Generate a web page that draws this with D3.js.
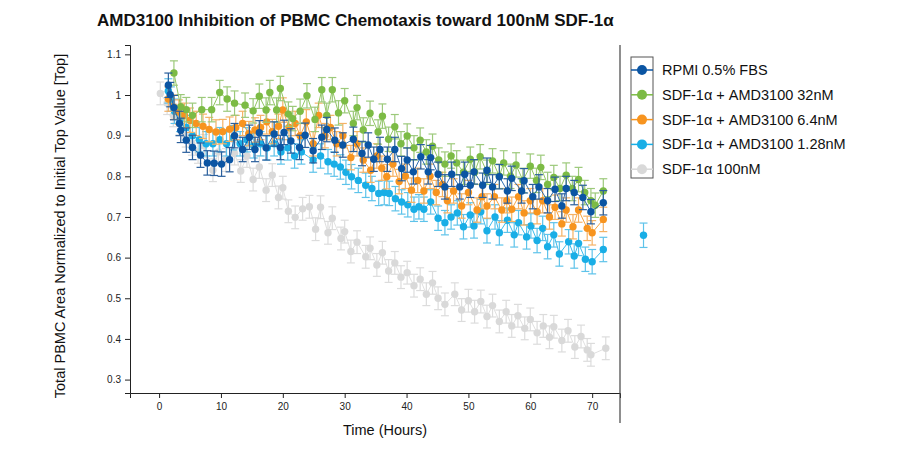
<!DOCTYPE html>
<html>
<head>
<meta charset="utf-8">
<script src="https://cdn.jsdelivr.net/npm/d3@7"></script>
<style>
  body { margin: 0; background: #fff; }
  text { font-family: "Liberation Sans", Arial, Helvetica, sans-serif; }
</style>
</head>
<body>
<div id="chart"></div>
<script>
var seriesNames = ["RPMI 0.5% FBS", "SDF-1\u03b1 + AMD3100 32nM", "SDF-1\u03b1 + AMD3100 6.4nM", "SDF-1\u03b1 + AMD3100 1.28nM", "SDF-1\u03b1 100nM"];
var seriesColors = ["#0b55a3", "#7cbb45", "#f7941f", "#19aee6", "#d9d9d9"];
var barColors = ["#2a5f9c", "#9cc97a", "#f5b265", "#5ec3ea", "#dcdcdc"];
var seriesErrors = [0.03, 0.03, 0.03, 0.03, 0.028];

var xTicks = [0, 10, 20, 30, 40, 50, 60, 70];
var yTicks = [0.3, 0.4, 0.5, 0.6, 0.7, 0.8, 0.9, 1, 1.1];

// RPMI 0.5% FBS
var rpmiHours = [1.5,1.8,2.4,3.3,3.5,4.4,5.4,6.7,7.8,8.9,10.1,11.4,12.2,13.5,14.6,15.5,16.2,17.3,18.6,19.6,20.2,21.3,22.7,23.6,24.9,26.3,27.1,28.4,29.7,31.4,32.8,33.8,34.7,35.7,36.9,38.1,39.2,40.1,41.1,42.3,43.5,43.9,45.1,46.2,47.3,48.6,49.4,50.3,50.9,52.3,53.0,53.9,55.0,56.3,57.0,58.6,59.0,60.4,61.4,62.8,64.0,65.1,65.8,67.1,68.5,69.8,71.8];
var rpmiValues = [1.024,1.001,0.969,0.93,0.913,0.889,0.871,0.852,0.833,0.832,0.83,0.841,0.9,0.866,0.896,0.866,0.907,0.87,0.904,0.871,0.908,0.887,0.871,0.901,0.863,0.896,0.915,0.889,0.877,0.891,0.856,0.877,0.842,0.866,0.842,0.866,0.819,0.84,0.811,0.848,0.811,0.846,0.805,0.774,0.805,0.774,0.805,0.778,0.811,0.778,0.815,0.774,0.799,0.764,0.795,0.764,0.789,0.75,0.774,0.74,0.768,0.727,0.77,0.76,0.748,0.713,0.735];

// SDF-1a + AMD3100 32nM
var amd32Hours = [2.4,3.5,4.4,5.4,6.9,8.5,9.8,11.0,12.2,13.9,15.2,16.2,17.3,17.9,19.0,19.6,20.9,21.6,22.8,23.9,25.2,26.3,27.1,28.0,29.0,30.0,31.4,32.0,33.0,34.1,35.4,36.1,37.1,38.1,39.1,40.1,41.2,42.2,43.2,44.2,45.2,46.2,47.2,48.1,49.2,50.3,51.0,51.9,53.0,53.9,55.0,55.7,56.8,57.7,58.8,60.0,61.0,61.7,62.8,63.8,64.8,65.8,66.8,67.8,68.8,69.8,70.5,71.8];
var amd32Values = [1.054,0.971,0.964,0.95,0.964,0.964,1.006,0.99,0.98,0.975,0.961,0.997,0.963,1.006,0.963,1.016,0.953,0.942,0.96,0.998,0.94,1.013,0.95,1.013,0.956,0.986,0.93,0.969,0.914,0.955,0.909,0.948,0.891,0.922,0.88,0.899,0.87,0.889,0.86,0.874,0.84,0.83,0.85,0.833,0.81,0.842,0.81,0.848,0.81,0.838,0.80,0.833,0.80,0.828,0.79,0.825,0.79,0.822,0.78,0.797,0.77,0.803,0.77,0.792,0.76,0.74,0.729,0.764];

// SDF-1a + AMD3100 6.4nM
var amd6Hours = [1.5,2.4,3.2,4.1,5.0,6.0,7.1,8.1,9.2,10.3,11.4,12.4,13.5,14.5,15.5,16.4,17.4,18.3,19.3,20.0,21.0,22.0,22.8,23.8,24.9,25.8,26.8,27.7,28.7,29.7,31.0,32.0,33.0,34.2,35.2,36.0,36.8,37.8,38.8,39.8,40.8,41.8,42.8,43.8,44.8,45.8,46.6,47.6,48.9,50.0,51.4,52.2,53.0,54.2,55.4,56.2,57.0,58.1,59.0,60.0,61.1,62.0,63.1,64.0,65.1,65.8,66.9,67.8,69.2,70.0,71.8];
var amd6Values = [0.99,0.97,0.958,0.95,0.938,0.93,0.923,0.915,0.909,0.91,0.916,0.92,0.93,0.905,0.914,0.92,0.934,0.91,0.923,0.963,0.92,0.93,0.90,0.934,0.88,0.95,0.90,0.92,0.88,0.90,0.846,0.88,0.84,0.815,0.85,0.82,0.799,0.83,0.787,0.80,0.766,0.79,0.764,0.80,0.76,0.78,0.74,0.764,0.727,0.76,0.717,0.75,0.727,0.75,0.717,0.74,0.719,0.75,0.71,0.74,0.713,0.74,0.70,0.724,0.683,0.717,0.676,0.717,0.672,0.661,0.694];

// SDF-1a + AMD3100 1.28nM (last point sits past the right edge of the plot)
var amd128Hours = [1.5,1.9,2.5,3.4,4.4,5.4,6.5,7.6,8.7,9.8,10.9,12.0,13.1,14.2,15.3,16.4,17.5,18.6,19.7,20.8,21.9,23.0,24.9,26.1,27.3,28.3,29.3,30.2,31.1,32.2,33.4,34.4,35.5,36.4,37.2,38.2,39.2,40.2,41.2,42.0,42.8,43.9,45.1,46.2,47.2,48.2,49.2,50.3,50.9,52.0,53.0,54.3,55.0,56.3,57.4,58.1,59.4,60.1,61.1,62.0,62.8,63.8,64.7,66.2,67.1,67.8,68.9,70.0,71.8,78.3];
var amd128Values = [1.01,0.99,0.96,0.94,0.92,0.90,0.89,0.88,0.88,0.89,0.88,0.895,0.88,0.89,0.875,0.88,0.87,0.88,0.86,0.87,0.85,0.86,0.84,0.85,0.836,0.83,0.823,0.81,0.799,0.79,0.778,0.77,0.758,0.76,0.758,0.745,0.737,0.73,0.719,0.725,0.719,0.737,0.697,0.686,0.70,0.71,0.676,0.705,0.678,0.713,0.666,0.70,0.661,0.692,0.656,0.686,0.651,0.678,0.642,0.672,0.627,0.656,0.609,0.639,0.604,0.635,0.596,0.59,0.62,0.655];

// SDF-1a 100nM
var sdfHours = [0.2,1.3,2.3,3.3,4.3,5.3,6.3,7.3,8.7,9.6,10.8,12.2,13.2,14.2,15.2,16.2,17.3,18.3,19.3,20.0,20.9,22.0,23.2,24.3,25.3,26.1,27.3,28.0,29.4,30.0,31.0,32.0,33.4,34.1,35.2,36.1,37.1,38.1,39.1,40.1,41.2,42.2,43.2,44.2,45.1,46.2,47.8,48.9,50.0,51.0,52.0,53.0,53.9,55.0,56.1,57.0,58.0,59.1,60.0,61.1,62.1,63.1,63.8,65.1,66.1,67.2,68.2,69.2,69.8,72.2];
var sdfValues = [1.004,0.98,0.95,0.93,0.90,0.88,0.86,0.875,0.815,0.86,0.84,0.856,0.813,0.85,0.792,0.823,0.766,0.803,0.748,0.772,0.714,0.699,0.72,0.725,0.67,0.724,0.661,0.697,0.647,0.664,0.615,0.638,0.602,0.623,0.582,0.612,0.567,0.587,0.552,0.563,0.531,0.547,0.51,0.538,0.50,0.485,0.51,0.471,0.494,0.467,0.492,0.455,0.482,0.443,0.467,0.432,0.457,0.426,0.448,0.415,0.432,0.404,0.43,0.396,0.42,0.38,0.406,0.373,0.361,0.377];

var seriesHours = [rpmiHours, amd32Hours, amd6Hours, amd128Hours, sdfHours];
var seriesValues = [rpmiValues, amd32Values, amd6Values, amd128Values, sdfValues];

var svgWidth = 900, svgHeight = 469;
var plotLeft = 130, plotRight = 620, plotTop = 45, plotBottom = 393;

var svg = d3.select("#chart").append("svg")
    .attr("width", svgWidth).attr("height", svgHeight);

var xScale = d3.scaleLinear().domain([-4.7, 74.5]).range([plotLeft, plotRight]);
var yScale = d3.scaleLinear().domain([0.267, 1.123]).range([plotBottom, plotTop]);

// title
svg.append("text").attr("x", 97).attr("y", 26)
    .attr("font-size", 17).attr("font-weight", "bold").attr("fill", "#111")
    .text("AMD3100 Inhibition of PBMC Chemotaxis toward 100nM SDF-1\u03b1");

// axes
var xAxis = d3.axisBottom(xScale).tickValues(xTicks).tickSize(5).tickPadding(5).tickFormat(d3.format("d"));
var xMinor = d3.axisBottom(xScale).tickValues(d3.range(-4, 75, 2)).tickSize(3).tickFormat("");
var yAxis = d3.axisLeft(yScale).tickValues(yTicks).tickSize(5).tickPadding(4).tickFormat(function (d) { return d === 1 ? "1" : d3.format(".1f")(d); });
var yMinor = d3.axisLeft(yScale).tickValues(d3.range(0.275, 1.12, 0.025)).tickSize(3).tickFormat("");

var gx = svg.append("g").attr("class", "axis").attr("transform", "translate(0," + plotBottom + ")");
gx.call(xMinor);
gx.call(xAxis);
var gy = svg.append("g").attr("class", "axis").attr("transform", "translate(" + plotLeft + ",0)");
gy.call(yMinor);
gy.call(yAxis);
svg.selectAll(".axis .domain").attr("stroke", "#222");
svg.selectAll(".axis line").attr("stroke", "#222");
svg.selectAll(".axis text").attr("font-size", 10).attr("fill", "#222")
    .style("font-family", "Liberation Sans, Arial, sans-serif");

// right border
svg.append("line").attr("x1", plotRight).attr("x2", plotRight).attr("y1", plotTop).attr("y2", 423)
    .attr("stroke", "#444").attr("stroke-width", 1.2);

// axis titles
svg.append("text").attr("x", 385).attr("y", 435).attr("text-anchor", "middle")
    .attr("font-size", 14.5).attr("fill", "#111").text("Time (Hours)");
svg.append("text").attr("transform", "translate(65,226) rotate(-90)").attr("text-anchor", "middle")
    .attr("font-size", 14.5).attr("fill", "#111").text("Total PBMC Area Normalized to Initial Top Value [Top]");

// series, drawn from the back (grey) to the front (dark blue)
var order = [4, 3, 2, 1, 0];
var xMax = xScale.domain()[1];
order.forEach(function (s) {
    var pts = seriesHours[s].map(function (h, i) { return [h, seriesValues[s][i]]; });
    var g = svg.append("g");
    var err = seriesErrors[s];

    // connecting line only inside the plot; off-plot points stand alone
    g.append("path").datum(pts.filter(function (d) { return d[0] <= xMax; }))
        .attr("fill", "none").attr("stroke", seriesColors[s]).attr("stroke-width", 1).attr("opacity", 0.85)
        .attr("d", d3.line().x(function (d) { return xScale(d[0]); }).y(function (d) { return yScale(d[1]); }));

    var bars = g.selectAll(".err").data(pts).enter().append("g")
        .attr("stroke", barColors[s]).attr("stroke-width", 1.2);
    bars.append("line")
        .attr("x1", function (d) { return xScale(d[0]); }).attr("x2", function (d) { return xScale(d[0]); })
        .attr("y1", function (d) { return yScale(d[1] + err); }).attr("y2", function (d) { return yScale(d[1] - err); });
    bars.append("line")
        .attr("x1", function (d) { return xScale(d[0]) - 4; }).attr("x2", function (d) { return xScale(d[0]) + 4; })
        .attr("y1", function (d) { return yScale(d[1] + err); }).attr("y2", function (d) { return yScale(d[1] + err); });
    bars.append("line")
        .attr("x1", function (d) { return xScale(d[0]) - 4; }).attr("x2", function (d) { return xScale(d[0]) + 4; })
        .attr("y1", function (d) { return yScale(d[1] - err); }).attr("y2", function (d) { return yScale(d[1] - err); });

    g.selectAll("circle").data(pts).enter().append("circle")
        .attr("r", 3.7).attr("fill", seriesColors[s])
        .attr("cx", function (d) { return xScale(d[0]); })
        .attr("cy", function (d) { return yScale(d[1]); });
});

// legend
var legX = 631, legY = 57;
svg.append("rect").attr("x", legX).attr("y", legY).attr("width", 22).attr("height", 121)
    .attr("fill", "none").attr("stroke", "#555").attr("stroke-width", 1);
var leg = svg.selectAll(".legend").data(seriesNames).enter().append("g")
    .attr("transform", function (d, i) { return "translate(" + legX + "," + (70 + i * 24.8) + ")"; });
leg.append("line").attr("x1", 0).attr("x2", 22).attr("y1", 0).attr("y2", 0)
    .attr("stroke", function (d, i) { return seriesColors[i]; }).attr("stroke-width", 1.5);
leg.append("circle").attr("cx", 11).attr("cy", 0).attr("r", 5)
    .attr("fill", function (d, i) { return seriesColors[i]; });
leg.append("text").attr("x", 31).attr("y", 5).attr("font-size", 14.5).attr("fill", "#111")
    .text(function (d) { return d; });
</script>
</body>
</html>
